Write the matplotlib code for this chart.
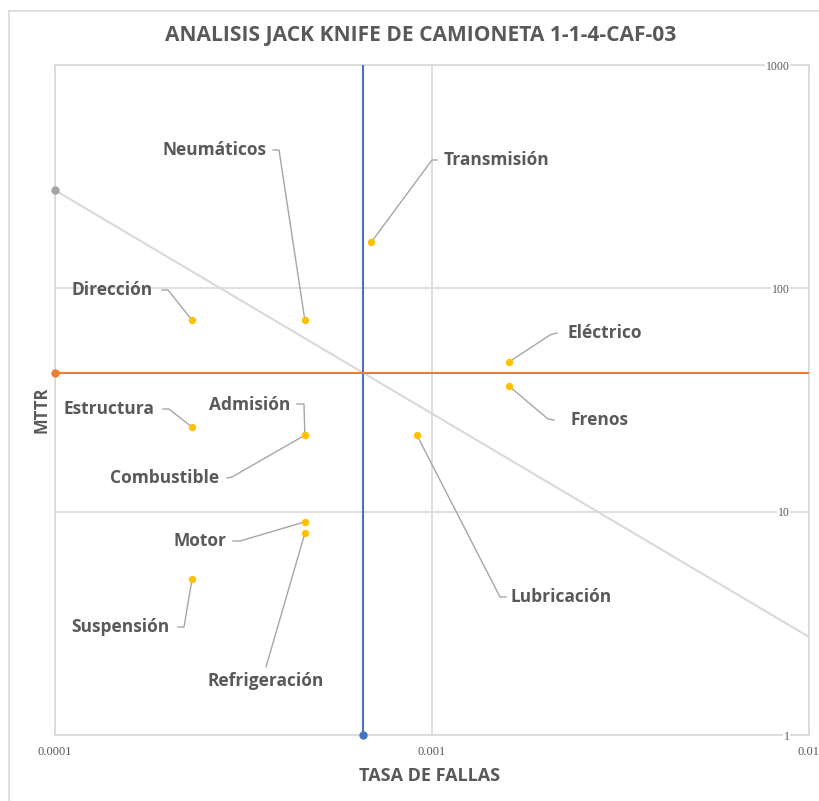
import matplotlib
matplotlib.use("Agg")
import matplotlib.pyplot as plt
from matplotlib.lines import Line2D

# ---- data ----
componentes = ["Transmisión", "Dirección", "Neumáticos", "Eléctrico", "Frenos",
               "Estructura", "Admisión", "Combustible", "Lubricación",
               "Motor", "Refrigeración", "Suspensión"]
tasa_fallas = [0.00069, 0.000231, 0.00046, 0.0016, 0.0016,
               0.000231, 0.00046, 0.00046, 0.000912,
               0.00046, 0.00046, 0.000231]
mttr = [161, 72, 72, 46.8, 36.5,
        23.9, 22.0, 22.0, 22.0,
        9.0, 8.0, 5.0]
lim_tasa = 0.000656   # umbral vertical (azul)
lim_mttr = 41.9       # umbral horizontal (naranja)

xticks = [0.0001, 0.001, 0.01]
xlabels = ["0.0001", "0.001", "0.01"]
yticks = [1, 10, 100, 1000]
ylabels = ["1", "10", "100", "1000"]

# label placement in reference pixels: text centre, leader start, elbow
LAB = {
    "Neumáticos":    ((214, 150), (273, 150), (279, 150)),
    "Transmisión":   ((497, 160), (437, 160), (432, 160)),
    "Dirección":     ((112, 290), (162, 290), (168, 290)),
    "Eléctrico":     ((605, 333), (557, 333), (550, 335)),
    "Frenos":        ((599, 420), (554, 420), (548, 419)),
    "Estructura":    ((109, 409), (163, 409), (169, 409)),
    "Admisión":      ((250, 405), (297, 404), (304, 404)),
    "Combustible":   ((165, 478), (227, 478), (232, 477)),
    "Motor":         ((200, 541), (233, 541), (240, 541)),
    "Refrigeración": ((266, 681), (266, 667), (266, 667)),
    "Suspensión":    ((120, 627), (178, 627), (184, 627)),
    "Lubricación":   ((561, 597), (506, 597), (500, 597)),
}

W, H = 819, 801
GRAY_TXT = "#595959"
GRID = "#d9d9d9"
plt.rcParams["font.family"] = ["Open Sans", "DejaVu Sans"]

fig = plt.figure(figsize=(W / 100, H / 100), dpi=100)
L, R, T, B = 55, 809, 65, 735
ax = fig.add_axes([L / W, 1 - B / H, (R - L) / W, (B - T) / H])
ax.set_xscale("log"); ax.set_yscale("log")
ax.set_xlim(0.0001, 0.01); ax.set_ylim(1, 1000)
for s in ax.spines.values():
    s.set_visible(False)
ax.minorticks_off()
ax.set_xticks(xticks, xlabels)
ax.set_yticks(yticks, ylabels)
ax.grid(True, color=GRID, linewidth=1.2, zorder=0)
ax.tick_params(axis="x", length=0, pad=8, labelsize=9, labelcolor=GRAY_TXT)
ax.tick_params(axis="y", length=0, left=False, labelleft=False, right=True,
               labelright=True, pad=-14, labelsize=8.5, labelcolor=GRAY_TXT)
for lb in ax.get_xticklabels() + ax.get_yticklabels():
    lb.set_fontfamily("Liberation Serif")
for lb in ax.get_yticklabels():
    lb.set_ha("right")
    lb.set_bbox(dict(facecolor="white", edgecolor="none", pad=0.5))

# bordering lines at plot edges
for xv in xticks[::2]:
    ax.axvline(xv, color=GRID, linewidth=1.2, zorder=0, clip_on=False)
for yv in yticks[::3]:
    ax.axhline(yv, color=GRID, linewidth=1.2, zorder=0, clip_on=False)

# iso-line through the intersection of the thresholds
k = lim_tasa * lim_mttr
ax.plot(xticks, [k / x for x in xticks], color="#d9d9d9", linewidth=1.5, zorder=2)
ax.plot([xticks[0]], [k / xticks[0]], "o", color="#a5a5a5", markersize=5,
        zorder=3, clip_on=False)
ax.plot([lim_tasa, lim_tasa], [1, 1000], color="#4472c4", linewidth=1.5, zorder=3)
ax.plot([lim_tasa], [1], "o", color="#4472c4", markersize=5, zorder=4, clip_on=False)
ax.plot([0.0001, 0.01], [lim_mttr, lim_mttr], color="#ed7d31", linewidth=1.5, zorder=3)
ax.plot([0.0001], [lim_mttr], "o", color="#ed7d31", markersize=5, zorder=4, clip_on=False)

ax.scatter(tasa_fallas, mttr, s=28, color="#ffc000", zorder=5, linewidths=0)

# labels with leader lines
def P(px, py):
    return ((px - L) / (R - L), (B - py) / (B - T))

to_ax = ax.transAxes.inverted()
for name, x, y in zip(componentes, tasa_fallas, mttr):
    (tx, ty), (sx, sy), (ex, ey) = LAB[name]
    pt = to_ax.transform(ax.transData.transform((x, y)))
    a, b, c = P(sx, sy), P(ex, ey), pt
    ax.add_line(Line2D([a[0], b[0], c[0]], [a[1], b[1], c[1]], transform=ax.transAxes,
                       color="#a6a6a6", linewidth=1.0, zorder=4))
    ax.text(*P(tx, ty), name, transform=ax.transAxes, ha="center", va="center",
            fontsize=12.5, fontweight="bold", color=GRAY_TXT, zorder=6)

fig.text(421 / W, 1 - 35 / H, "ANALISIS JACK KNIFE DE CAMIONETA 1-1-4-CAF-03",
         ha="center", va="center", fontsize=15.1, fontweight="bold", color=GRAY_TXT)
fig.text(430 / W, 1 - 776 / H, "TASA DE FALLAS", ha="center", va="center",
         fontsize=13, fontweight="bold", color=GRAY_TXT)
fig.text(41 / W, 1 - 410 / H, "MTTR", ha="center", va="center", rotation=90,
         fontsize=12, fontweight="bold", color=GRAY_TXT)

# chart frame (top/left edges visible)
fig.add_artist(Line2D([9 / W, 9 / W], [0, 1 - 11 / H], color=GRID, linewidth=1.2))
fig.add_artist(Line2D([9 / W, 1], [1 - 11 / H, 1 - 11 / H], color=GRID, linewidth=1.2))

fig.savefig("out.png", dpi=100)
